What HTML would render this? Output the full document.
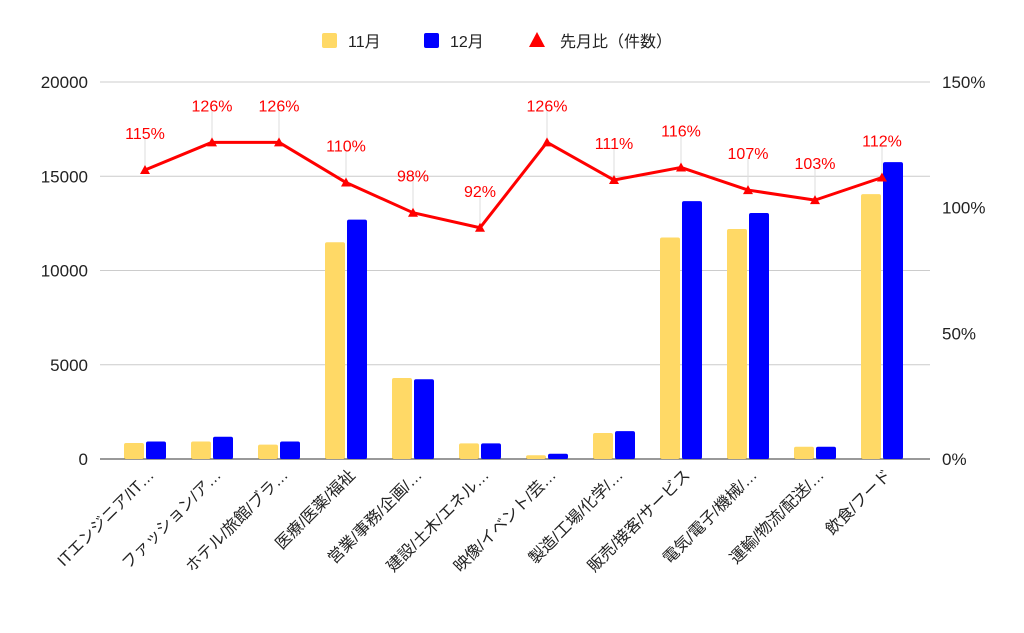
<!DOCTYPE html>
<html><head><meta charset="utf-8"><style>
body{margin:0;background:#fff;}
svg{display:block;font-family:"Liberation Sans","Noto Sans CJK JP",sans-serif;}
</style></head><body>
<svg id="c" width="1024" height="633"></svg>
<script>
const categories=["ITエンジニア/IT…","ファッション/ア…","ホテル/旅館/ブラ…","医療/医薬/福祉","営業/事務/企画/…","建設/土木/エネル…","映像/イベント/芸…","製造/工場/化学/…","販売/接客/サービス","電気/電子/機械/…","運輸/物流/配送/…","飲食/フード"];
const novValues=[850,930,760,11500,4300,830,200,1380,11750,12200,650,14050];
const decValues=[930,1180,930,12700,4230,830,280,1480,13680,13050,650,15750];
const ratioValues=[115,126,126,110,98,92,126,111,116,107,103,112];
const leftTicks=[0,5000,10000,15000,20000];
const rightTicks=[0,50,100,150];
const NS="http://www.w3.org/2000/svg";
const svg=document.getElementById('c');
const X0=111.5,STEP=67,Y0=459,Y1=82;
const yL=v=>Y0-(v/20000)*(Y0-Y1);
const yR=v=>Y0-(v/150)*(Y0-Y1);
const xC=i=>X0+STEP*(i+0.5);
function mk(t,a,txt){const e=document.createElementNS(NS,t);for(const k in a)e.setAttribute(k,a[k]);if(txt!=null)e.textContent=txt;svg.appendChild(e);return e;}
leftTicks.forEach(v=>{
 const g=mk('line',{x1:100,x2:930,y1:yL(v),y2:yL(v),stroke:v===0?'#333':'#ccc','stroke-width':1});
 
 
 const t=mk('text',{x:88,y:yL(v)+6,'text-anchor':'end','font-size':17,fill:'#222'},v);
 
 
});
rightTicks.forEach(v=>{
 const t=mk('text',{x:942,y:yR(v)+6,'font-size':17,fill:'#222'},v+'%');
 
 
});
categories.forEach((c,i)=>{
 const cx=xC(i);
 const b1=mk('rect',{x:cx-21,y:yL(novValues[i]),width:20,height:Y0-yL(novValues[i]),fill:'#ffd966',rx:2});
 
 
 const b2=mk('rect',{x:cx+1,y:yL(decValues[i]),width:20,height:Y0-yL(decValues[i]),fill:'#0000ff',rx:2});
 
 
 const t=mk('text',{x:cx+10,y:476,'text-anchor':'end','font-size':16,fill:'#222',transform:`rotate(-45 ${cx+10} 476)`},c);
 
 
});
const pts=ratioValues.map((v,i)=>xC(i)+','+yR(v)).join(' ');
const pl=mk('polyline',{points:pts,fill:'none',stroke:'#ff0000','stroke-width':3,'stroke-linejoin':'round'});


ratioValues.forEach((v,i)=>{
 const x=xC(i),y=yR(v);
 const l=mk('line',{x1:x,x2:x,y1:y-32,y2:y,stroke:'#ddd','stroke-width':1});
 
 
 const p=mk('polygon',{points:`${x},${y-5} ${x-5},${y+4} ${x+5},${y+4}`,fill:'#ff0000'});
 
 
 const t=mk('text',{x:x,y:y-31,'text-anchor':'middle','font-size':16,fill:'#ff0000'},v+'%');
 
 
});
</script>
<div style="position:absolute;left:0;top:0;">
<svg width="1024" height="60" style="position:absolute;left:0;top:0">
<g><rect x="322" y="33" width="15" height="15" rx="2" fill="#ffd966"/><text x="348" y="47" font-size="16" fill="#222">11月</text></g>
<g><rect x="424" y="33" width="15" height="15" rx="2" fill="#0000ff"/><text x="450" y="47" font-size="16" fill="#222">12月</text></g>
<g><polygon points="537,32 529,47 545,47" fill="#ff0000"/><text x="560" y="47" font-size="16" fill="#222">先月比（件数）</text></g>
</svg></div>
</body></html>
